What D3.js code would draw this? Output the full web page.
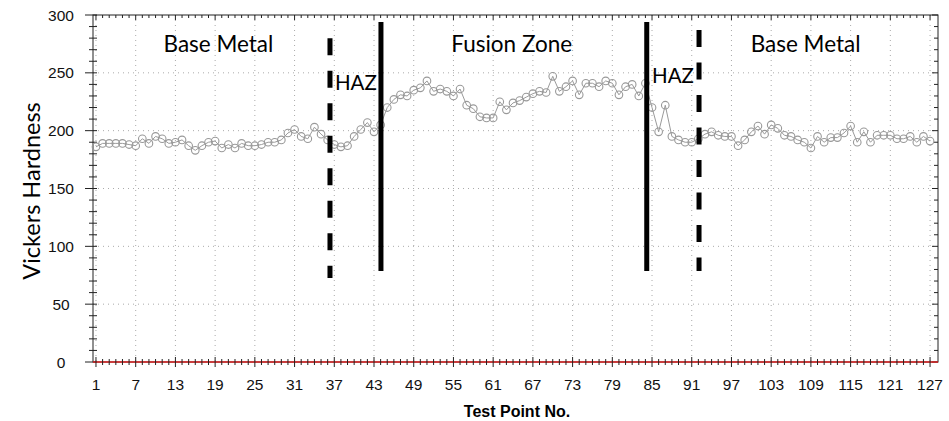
<!DOCTYPE html>
<html><head><meta charset="utf-8">
<script src="https://cdn.jsdelivr.net/npm/d3@7"></script>
<style>body{margin:0;background:#fff;}svg{display:block;}</style>
</head><body>
<svg id="c" width="949" height="421"></svg>
<script>
const hardness = [186,189,189,189,189,188,187,193,189,195,193,189,190,192,187,183,187,190,191,185,188,185,189,187,187,
188,190,190,192,198,201,195,193,203,197,192,188,186,187,195,201,207,199,205,220,227,231,230,235,237,
243,234,236,234,230,236,222,219,212,211,211,225,218,224,226,229,232,234,233,247,234,238,243,231,241,241,
238,243,241,231,238,240,230,241,220,199,222,195,192,190,190,193,197,199,196,195,195,187,192,199,204,197,
205,202,196,195,192,190,185,195,190,194,194,198,204,190,199,190,196,196,196,193,193,195,190,195,191];
const testPoints = hardness.map((d,i)=>i+1);
const xTickValues = d3.range(1,128,6);
const yTickValues = [0,50,100,150,200,250,300];
const boundaryX = [36.35, 44.05, 84.2, 92.1];
const boundaryDashed = [true, false, false, true];
const boundaryTop = [280, 294, 294, 287];
const boundaryBottom = [72.6, 78.7, 78.7, 78.7];
const zoneLabels = ["Base Metal","HAZ","Fusion Zone","HAZ","Base Metal"];
const zoneLabelX = [19.5, 37.1, 63.8, 85.0, 108.2];
const zoneLabelY = [268, 235, 268, 241, 268];
const zoneAnchor = ["middle","start","middle","start","middle"];

const svg = d3.select("#c");
const x = d3.scaleLinear().domain([0.55,128.2]).range([93,938]);
const y = d3.scaleLinear().domain([0,300]).range([362,15]);
const g = svg.append("g");
const tickFont = "Liberation Sans, Arial, sans-serif";
const labelFont = "Lato, Open Sans, sans-serif";

// grid
g.selectAll(".vg").data(xTickValues).join("line")
  .attr("x1",d=>x(d)).attr("x2",d=>x(d)).attr("y1",y(300)).attr("y2",y(0))
  .attr("stroke","#aaa").attr("stroke-width",1).attr("stroke-dasharray","1,4");
g.selectAll(".hg").data(yTickValues.filter(d=>d>0&&d<300)).join("line")
  .attr("x1",x.range()[0]).attr("x2",x.range()[1]).attr("y1",d=>y(d)).attr("y2",d=>y(d))
  .attr("stroke","#aaa").attr("stroke-width",1).attr("stroke-dasharray","1,4");

// frame
g.append("rect").attr("x",93).attr("y",15).attr("width",938-93).attr("height",362-15)
  .attr("fill","none").attr("stroke","#222").attr("stroke-width",1);

// left axis ticks
const yMinor = d3.range(0,301,10);
g.selectAll(".ylt").data(yMinor).join("line")
  .attr("x1",d=>x.range()[0]-(d%50===0?8:4)).attr("x2",x.range()[0]+4)
  .attr("y1",d=>y(d)).attr("y2",d=>y(d)).attr("stroke","#222");
// right axis ticks
g.selectAll(".yrt").data(yMinor).join("line")
  .attr("x1",d=>x.range()[1]-(d%50===0?6:4)).attr("x2",x.range()[1])
  .attr("y1",d=>y(d)).attr("y2",d=>y(d)).attr("stroke","#222");
// top ticks
const xMinor = d3.range(1,128,1);
g.selectAll(".xtt").data(xMinor).join("line")
  .attr("x1",d=>x(d)).attr("x2",d=>x(d)).attr("y1",y(300)).attr("y2",d=>y(300)+((d-1)%6===0?5:3))
  .attr("stroke","#222");

// y labels
g.selectAll(".yl").data(yTickValues).join("text")
  .attr("x",61).attr("y",d=>y(d)).attr("dy","0.36em").attr("text-anchor","middle")
  .attr("font-family",tickFont).attr("font-size",15.5).attr("fill","#111")
  .text(d=>d);

// red zero line
g.append("line").attr("x1",x.range()[0]).attr("x2",x.range()[1]).attr("y1",y(0)).attr("y2",y(0))
  .attr("stroke","#d22").attr("stroke-width",1.3);
// bottom ticks
g.selectAll(".xbt").data(xMinor).join("line")
  .attr("x1",d=>x(d)).attr("x2",d=>x(d))
  .attr("y1",d=>y(0)-((d-1)%6===0?5:3)).attr("y2",d=>y(0)+((d-1)%6===0?5:3))
  .attr("stroke","#222");
g.selectAll(".xl").data(xTickValues).join("text")
  .attr("x",d=>x(d)).attr("y",390).attr("text-anchor","middle")
  .attr("font-family",tickFont).attr("font-size",15.5).attr("fill","#111")
  .text(d=>d);

// axis titles
svg.append("text").attr("x",517).attr("y",417).attr("text-anchor","middle")
  .attr("font-family",tickFont).attr("font-weight","bold").attr("font-size",16)
  .text("Test Point No.");
svg.append("text").attr("transform","translate(40,191) rotate(-90)").attr("text-anchor","middle")
  .attr("font-family",labelFont).attr("font-size",23.5)
  .text("Vickers Hardness");

// data line
const line = d3.line().x((d,i)=>x(testPoints[i])).y(d=>y(d));
g.append("path").datum(hardness).attr("d",line).attr("fill","none").attr("stroke","#9a9a9a").attr("stroke-width",1);
g.selectAll(".pt").data(hardness).join("circle")
  .attr("cx",(d,i)=>x(testPoints[i])).attr("cy",d=>y(d)).attr("r",3.8)
  .attr("fill","none").attr("stroke","#999").attr("stroke-width",1.1);

// boundaries
g.selectAll(".bd").data(boundaryX).join("line")
  .attr("x1",d=>x(d)).attr("x2",d=>x(d))
  .attr("y1",(d,i)=>y(boundaryTop[i])).attr("y2",(d,i)=>y(boundaryBottom[i]))
  .attr("stroke","#000").attr("stroke-width",5)
  .attr("stroke-dasharray",(d,i)=>boundaryDashed[i]?"17,15.5":null);

// zone labels
g.selectAll(".zl").data(zoneLabels).join("text")
  .attr("x",(d,i)=>x(zoneLabelX[i])).attr("y",(d,i)=>y(zoneLabelY[i]))
  .attr("text-anchor",(d,i)=>zoneAnchor[i])
  .attr("font-family",labelFont).attr("font-size",d=>d==="HAZ"?20.5:22.5).attr("fill","#000")
  .text(d=>d);
</script>
</body></html>
